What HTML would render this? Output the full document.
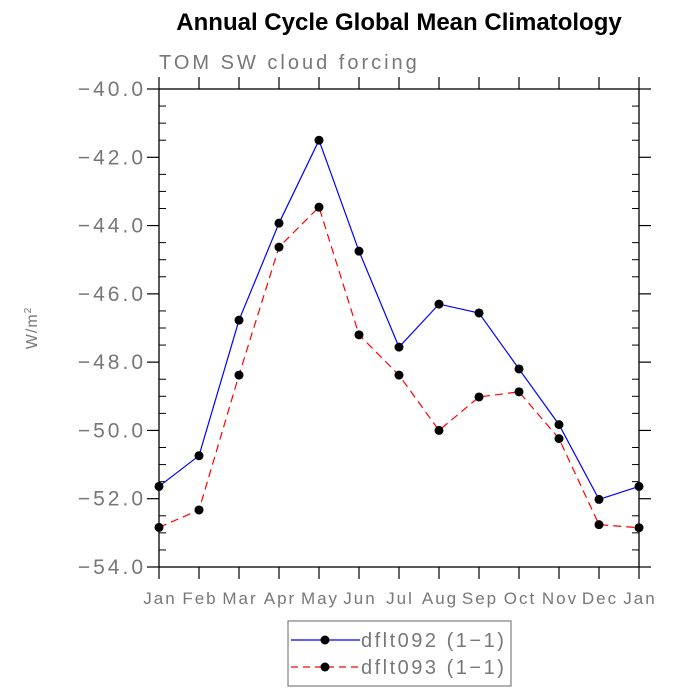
<!DOCTYPE html>
<html><head><meta charset="utf-8"><style>
body{margin:0;background:#fff}
svg{display:block}
text{font-family:"Liberation Sans","DejaVu Sans",sans-serif}
</style></head><body>
<svg id="chart" width="700" height="700" viewBox="0 0 700 700">
<text x="399" y="30" text-anchor="middle" font-size="24" font-weight="bold" fill="#000">Annual Cycle Global Mean Climatology</text>
<text x="159" y="69" font-size="20" fill="#777" letter-spacing="3">TOM SW cloud forcing</text>
<text transform="translate(37,328) rotate(-90)" text-anchor="middle" font-size="16" fill="#777" letter-spacing="1">W/m<tspan dy="-6" font-size="10">2</tspan></text>
<g id="axes"></g>
<g id="series"></g>
<g>
<rect x="288" y="621" width="223" height="65" fill="#fff" stroke="#888" stroke-width="1.3"/>
<g>
<line x1="291" y1="640" x2="360" y2="640" stroke="#0000ff" stroke-width="1.2"/>
<circle cx="325" cy="640" r="4.5" fill="#000"/>
<text x="361" y="647" font-size="20" fill="#777" letter-spacing="2.5">dflt092 (1−1)</text>
</g>
<g>
<line x1="291" y1="667" x2="360" y2="667" stroke="#ff0000" stroke-width="1.2" stroke-dasharray="7,5"/>
<circle cx="325" cy="667" r="4.5" fill="#000"/>
<text x="361" y="674" font-size="20" fill="#777" letter-spacing="2.5">dflt093 (1−1)</text>
</g>
</g>
</svg>
<script>
const months = ["Jan","Feb","Mar","Apr","May","Jun","Jul","Aug","Sep","Oct","Nov","Dec","Jan"];
const dflt092 = [-51.64,-50.74,-46.77,-43.93,-41.5,-44.75,-47.56,-46.3,-46.56,-48.2,-49.83,-52.02,-51.64];
const dflt093 = [-52.84,-52.33,-48.38,-44.63,-43.46,-47.2,-48.38,-50.0,-49.02,-48.87,-50.24,-52.76,-52.85];
const yTicks = [-40,-42,-44,-46,-48,-50,-52,-54];
const yMin = -54, yMax = -40;
const X0 = 159, X1 = 639, Y0 = 89, Y1 = 567;
function xs(i){return X0 + i*(X1-X0)/(months.length-1);}
function ys(v){return Y0 + (yMax - v)*(Y1-Y0)/(yMax-yMin);}
const NS = "http://www.w3.org/2000/svg";
function mk(tag, attrs, parent){const e=document.createElementNS(NS,tag);for(const k in attrs)e.setAttribute(k,attrs[k]);parent.appendChild(e);return e;}
const axes = document.getElementById("axes");
const frame = mk("rect",{x:X0,y:Y0,width:X1-X0,height:Y1-Y0,fill:"none",stroke:"#000","stroke-width":1.3},axes);


for(let v=yMin; v<=yMax+1e-9; v+=0.5){
  const y=ys(v);
  const major = Math.abs(v/2 - Math.round(v/2))<1e-6;
  if(major){
    mk("line",{x1:X0-12,y1:y,x2:X0,y2:y,stroke:"#000","stroke-width":1.2},axes);
    mk("line",{x1:X1,y1:y,x2:X1+12,y2:y,stroke:"#000","stroke-width":1.2},axes);
  } else {
    mk("line",{x1:X0,y1:y,x2:X0+7,y2:y,stroke:"#000","stroke-width":1},axes);
    mk("line",{x1:X1-7,y1:y,x2:X1,y2:y,stroke:"#000","stroke-width":1},axes);
  }
}
yTicks.forEach(v=>{
  const t=mk("text",{x:X0-13,y:ys(v)+7,"text-anchor":"end","font-size":21,fill:"#777","letter-spacing":3},axes);
  t.textContent="−"+Math.abs(v).toFixed(1);
  
  
});
months.forEach((m,i)=>{
  const x=xs(i);
  mk("line",{x1:x,y1:Y1,x2:x,y2:Y1+12,stroke:"#000","stroke-width":1.2},axes);
  mk("line",{x1:x,y1:Y0-12,x2:x,y2:Y0,stroke:"#000","stroke-width":1.2},axes);
  const t=mk("text",{x:x+1,y:Y1+37,"text-anchor":"middle","font-size":17,fill:"#777","letter-spacing":2},axes);
  t.textContent=m;
  
  
});
const series = document.getElementById("series");
function draw(vals,color,dash,name){
  const g=mk("g",{},series);
  
  
  const pts=vals.map((v,i)=>xs(i)+","+ys(v)).join(" ");
  const attrs={points:pts,fill:"none",stroke:color,"stroke-width":1.2};
  if(dash)attrs["stroke-dasharray"]=dash;
  mk("polyline",attrs,g);
  vals.forEach((v,i)=>{
    const c=mk("circle",{cx:xs(i),cy:ys(v),r:4.5,fill:"#000"},g);
    
    
  });
}
draw(dflt092,"#0000ff",null,"series-dflt092");
draw(dflt093,"#ff0000","8,5","series-dflt093");
</script>
</body></html>
